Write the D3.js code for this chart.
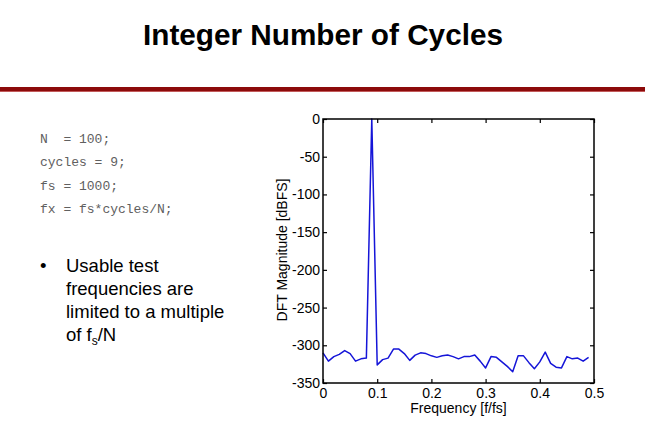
<!DOCTYPE html>
<html>
<head>
<meta charset="utf-8">
<script src="https://cdn.jsdelivr.net/npm/d3@7"></script>
<style>
  body { margin: 0; background: #fff; }
  svg { display: block; font-family: Arial, "Liberation Sans", sans-serif; }
</style>
</head>
<body>
<div id="slide"></div>
<script>
var width = 645;
var height = 430;

// code listing shown on the left
const codeLines = ["N  = 100;", "cycles = 9;", "fs = 1000;", "fx = fs*cycles/N;"];

// DFT bins k/N, k = 0..49
const freqs = d3.range(50).map(k => k / 100);
const magnitudes = [
  -310, -321, -315, -312, -307, -311, -321, -318, -317, 0,
  -326, -319, -317, -305, -305, -311, -320, -313, -310, -311,
  -314, -316, -314, -313, -315, -318, -315, -315, -313, -321,
  -330, -315, -316, -322, -328, -335, -314, -314, -323, -331,
  -322, -309, -324, -329, -330, -315, -318, -317, -321, -316
];
const xTicks = [0, 0.1, 0.2, 0.3, 0.4, 0.5];
const yTicks = [0, -50, -100, -150, -200, -250, -300, -350];

var svg = d3.select("#slide").append("svg")
  .attr("width", width)
  .attr("height", height);

// title + red rule
svg.append("text")
  .attr("x", 143).attr("y", 44.5)
  .attr("font-size", 29).attr("font-weight", "bold")
  .attr("textLength", 360).attr("lengthAdjust", "spacingAndGlyphs")
  .text("Integer Number of Cycles");

svg.append("rect").attr("x", 0).attr("y", 87).attr("width", width).attr("height", 4)
  .attr("fill", "#8c0a0a");
svg.append("rect").attr("x", 0).attr("y", 91).attr("width", width).attr("height", 1)
  .attr("fill", "#c25a5a");

// code
svg.append("g").selectAll("text")
  .data(codeLines)
  .enter().append("text")
  .attr("x", 40)
  .attr("y", (d, i) => 142.5 + i * 23.5)
  .attr("font-family", "'Liberation Mono', 'Courier New', monospace")
  .attr("font-size", 13)
  .attr("fill", "#606060")
  .attr("xml:space", "preserve")
  .text(d => d);

// bullet
var bullet = svg.append("g").attr("font-size", 18.5);
bullet.append("text").attr("x", 40).attr("y", 272).text("\u2022");
var bulletLines = ["Usable test", "frequencies are", "limited to a multiple"];
bullet.selectAll("text.line")
  .data(bulletLines)
  .enter().append("text")
  .attr("class", "line")
  .attr("x", 66)
  .attr("y", (d, i) => 272 + i * 23)
  .text(d => d);
var last = bullet.append("text").attr("x", 66).attr("y", 341);
last.append("tspan").text("of f");
last.append("tspan").attr("font-size", 12).attr("dy", 4).text("s");
last.append("tspan").attr("dy", -4).text("/N");

// chart
var margin = { left: 323, top: 119 };
var plotW = 594 - margin.left;
var plotH = 383 - margin.top;

var xScale = d3.scaleLinear().domain([0, 0.5]).range([0, plotW]);
var yScale = d3.scaleLinear().domain([-350, 0]).range([plotH, 0]);

var chart = svg.append("g").attr("transform", "translate(" + margin.left + "," + margin.top + ")");

var tickSize = -4;
function styleAxis(g, showText) {
  g.select(".domain").remove();
  g.selectAll(".tick line").attr("stroke", "#000").attr("stroke-width", 1.2);
  g.selectAll(".tick text").attr("font-size", 14).attr("font-family", "Arial, 'Liberation Sans', sans-serif")
    .attr("fill", "#000").style("display", showText ? null : "none");
}

chart.append("g").attr("transform", "translate(0," + plotH + ")")
  .call(d3.axisBottom(xScale).tickValues(xTicks).tickSize(tickSize).tickPadding(5).tickFormat(d => String(d)))
  .call(g => styleAxis(g, true));
chart.append("g")
  .call(d3.axisTop(xScale).tickValues(xTicks).tickSize(tickSize))
  .call(g => styleAxis(g, false));
chart.append("g")
  .call(d3.axisLeft(yScale).tickValues(yTicks).tickSize(tickSize).tickPadding(3).tickFormat(d => String(d)))
  .call(g => styleAxis(g, true));
chart.append("g").attr("transform", "translate(" + plotW + ",0)")
  .call(d3.axisRight(yScale).tickValues(yTicks).tickSize(tickSize))
  .call(g => styleAxis(g, false));

// data line
var line = d3.line()
  .x((d, i) => xScale(freqs[i]))
  .y(d => yScale(d));

chart.append("path")
  .datum(magnitudes)
  .attr("fill", "none")
  .attr("stroke", "#1515d8")
  .attr("stroke-width", 1.5)
  .attr("stroke-linejoin", "round")
  .attr("d", line);

// box
chart.append("rect")
  .attr("width", plotW).attr("height", plotH)
  .attr("fill", "none").attr("stroke", "#000").attr("stroke-width", 1.5);

// axis labels
chart.append("text")
  .attr("x", plotW / 2).attr("y", 413 - margin.top)
  .attr("text-anchor", "middle").attr("font-size", 14)
  .text("Frequency [f/fs]");
chart.append("text")
  .attr("transform", "translate(" + (287 - margin.left) + "," + (250 - margin.top) + ") rotate(-90)")
  .attr("text-anchor", "middle").attr("font-size", 14)
  .text("DFT Magnitude [dBFS]");
</script>
</body>
</html>
